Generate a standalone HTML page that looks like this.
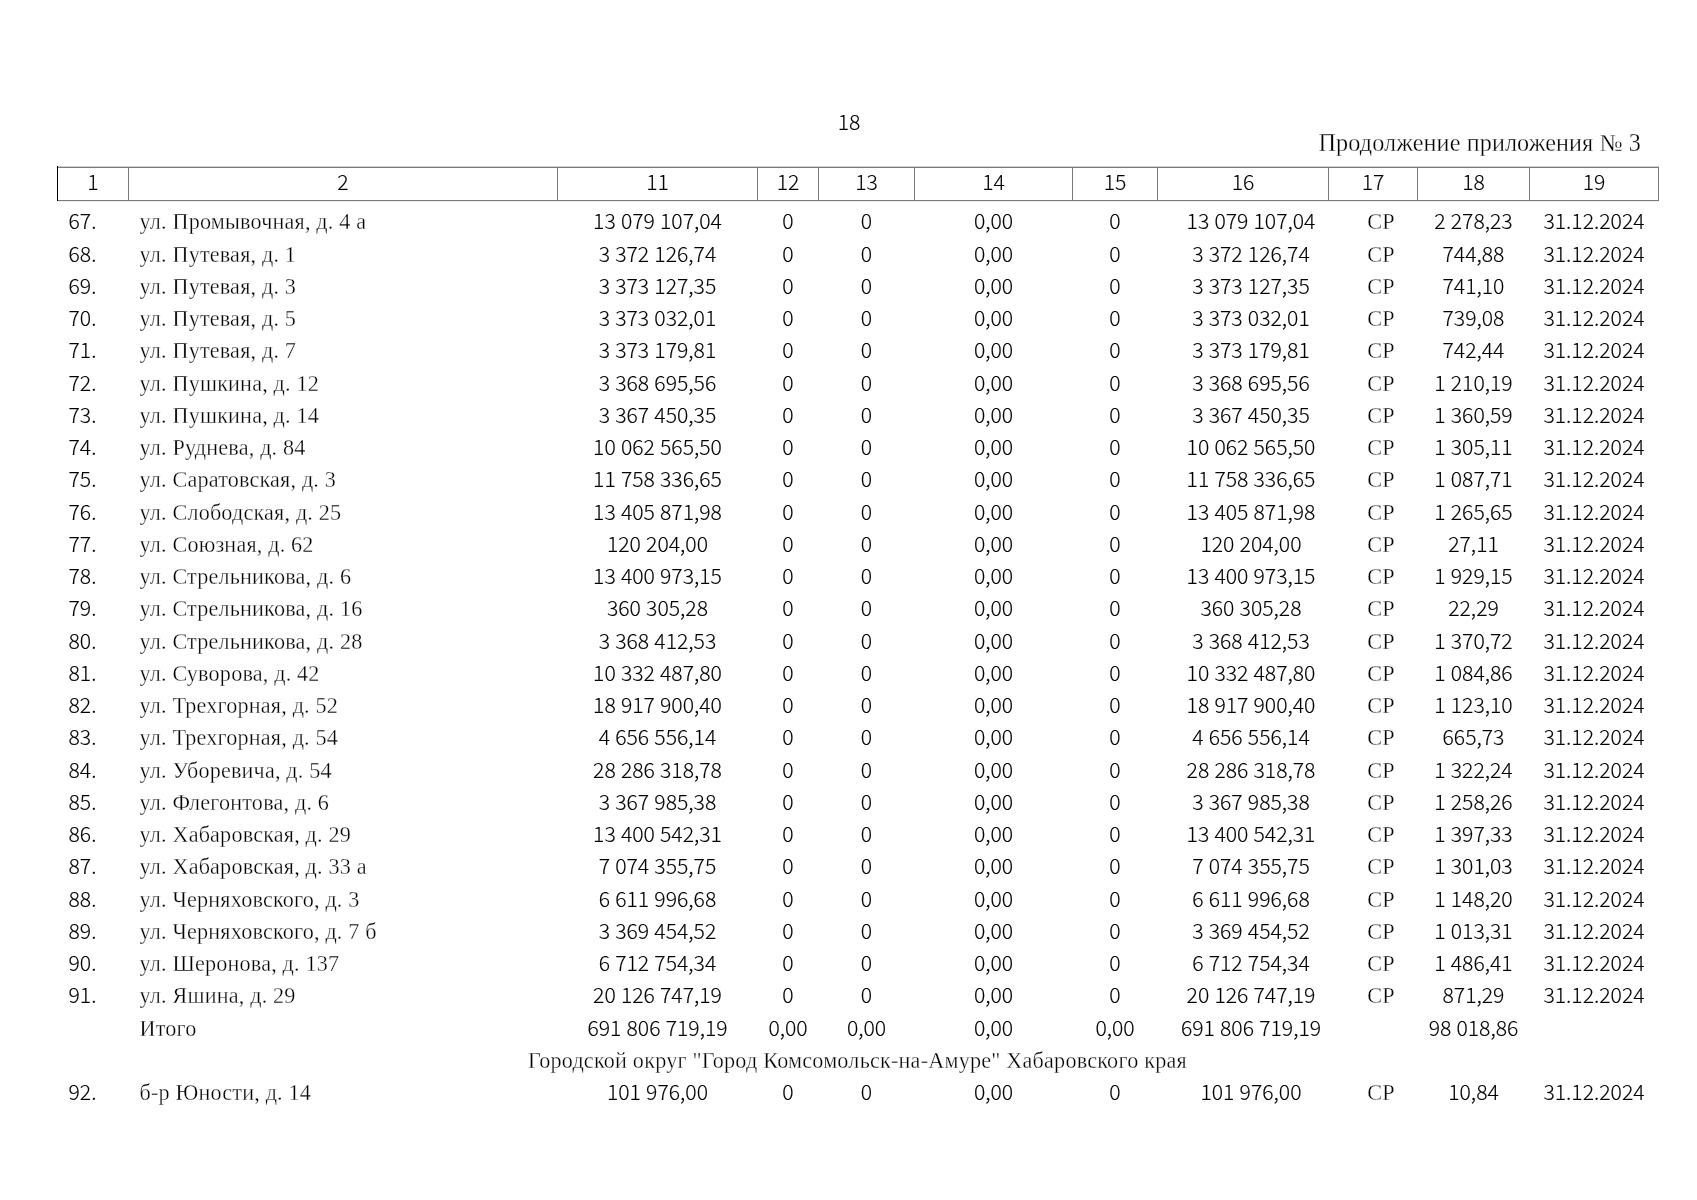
<!DOCTYPE html>
<html lang="ru"><head><meta charset="utf-8"><title>Продолжение приложения № 3</title>
<style>
html,body{margin:0;padding:0;background:#fff;}
body{width:1697px;height:1200px;position:relative;overflow:hidden;color:#000;}
.n{font-family:"Noto Sans CJK SC","Liberation Sans",sans-serif;font-weight:300;font-size:21.16px;word-spacing:0.5px;-webkit-text-stroke:0.15px #000;}
.s{font-family:"Liberation Serif","Noto Serif CJK SC",serif;font-size:22.17px;letter-spacing:0.18px;color:#000;-webkit-text-stroke:0.3px #fff;}
.r{position:absolute;left:0;width:1697px;height:32px;line-height:32px;white-space:nowrap;}
.r span{position:absolute;top:0;text-align:center;display:block;}
.r span.a{text-align:left;}
.r span.n{top:-2px;}
.pg{position:absolute;left:0;width:1697px;text-align:center;}
#w{position:absolute;left:0;top:0;width:1697px;height:1200px;will-change:transform;}
</style></head><body><div id="w">
<div class="pg n" style="top:109px;left:799px;width:100px;line-height:24px;font-size:21.16px">18</div>
<div class="s" style="position:absolute;top:129px;right:56px;line-height:28px;font-size:24.19px;letter-spacing:0.1px;white-space:nowrap">Продолжение приложения № 3</div>
<div style="position:absolute;left:57px;top:166px;width:1602px;height:1px;background:#d4d4d4"></div>
<div style="position:absolute;left:57px;top:167px;width:1602px;height:1px;background:#7a7a7a"></div>
<div style="position:absolute;left:57px;top:200px;width:1602px;height:1px;background:#7a7a7a"></div>
<div style="position:absolute;left:57px;top:201px;width:1602px;height:1px;background:#ececec"></div>
<div style="position:absolute;left:128px;top:167px;width:1px;height:34px;background:#7a7a7a"></div>
<div style="position:absolute;left:557px;top:167px;width:1px;height:34px;background:#7a7a7a"></div>
<div style="position:absolute;left:757px;top:167px;width:1px;height:34px;background:#7a7a7a"></div>
<div style="position:absolute;left:818px;top:167px;width:1px;height:34px;background:#7a7a7a"></div>
<div style="position:absolute;left:914px;top:167px;width:1px;height:34px;background:#7a7a7a"></div>
<div style="position:absolute;left:1072px;top:167px;width:1px;height:34px;background:#7a7a7a"></div>
<div style="position:absolute;left:1157px;top:167px;width:1px;height:34px;background:#7a7a7a"></div>
<div style="position:absolute;left:1328px;top:167px;width:1px;height:34px;background:#7a7a7a"></div>
<div style="position:absolute;left:1417px;top:167px;width:1px;height:34px;background:#7a7a7a"></div>
<div style="position:absolute;left:1529px;top:167px;width:1px;height:34px;background:#7a7a7a"></div>
<div style="position:absolute;left:1658px;top:167px;width:1px;height:34px;background:#7a7a7a"></div>
<div style="position:absolute;left:57px;top:166px;width:1px;height:35px;background:#000"></div>
<div class="n" style="position:absolute;text-align:center;left:57px;top:167px;width:72px;height:33px;line-height:27px;">1</div>
<div class="n" style="position:absolute;text-align:center;left:128px;top:167px;width:430px;height:33px;line-height:27px;">2</div>
<div class="n" style="position:absolute;text-align:center;left:557px;top:167px;width:201px;height:33px;line-height:27px;">11</div>
<div class="n" style="position:absolute;text-align:center;left:757px;top:167px;width:62px;height:33px;line-height:27px;">12</div>
<div class="n" style="position:absolute;text-align:center;left:818px;top:167px;width:97px;height:33px;line-height:27px;">13</div>
<div class="n" style="position:absolute;text-align:center;left:914px;top:167px;width:159px;height:33px;line-height:27px;">14</div>
<div class="n" style="position:absolute;text-align:center;left:1072px;top:167px;width:86px;height:33px;line-height:27px;">15</div>
<div class="n" style="position:absolute;text-align:center;left:1157px;top:167px;width:172px;height:33px;line-height:27px;">16</div>
<div class="n" style="position:absolute;text-align:center;left:1328px;top:167px;width:90px;height:33px;line-height:27px;">17</div>
<div class="n" style="position:absolute;text-align:center;left:1417px;top:167px;width:113px;height:33px;line-height:27px;">18</div>
<div class="n" style="position:absolute;text-align:center;left:1529px;top:167px;width:130px;height:33px;line-height:27px;">19</div>
<div class="r" style="top:206.25px"><span class="n a" style="left:68.5px">67.</span><span class="s a" style="left:139.5px;top:0px">ул. Промывочная, д. 4 а</span><span class="n" style="left:557px;width:201px;">13 079 107,04</span><span class="n" style="left:757px;width:62px;">0</span><span class="n" style="left:818px;width:97px;">0</span><span class="n" style="left:914px;width:159px;">0,00</span><span class="n" style="left:1072px;width:86px;">0</span><span class="n" style="left:1157px;width:172px;margin-left:8px">13 079 107,04</span><span class="s" style="left:1328px;width:90px;top:0px;margin-left:8px">СР</span><span class="n" style="left:1417px;width:113px;">2 278,23</span><span class="n" style="left:1529px;width:130px;margin-left:0px">31.12.2024</span></div>
<div class="r" style="top:238.51px"><span class="n a" style="left:68.5px">68.</span><span class="s a" style="left:139.5px;top:0px">ул. Путевая, д. 1</span><span class="n" style="left:557px;width:201px;">3 372 126,74</span><span class="n" style="left:757px;width:62px;">0</span><span class="n" style="left:818px;width:97px;">0</span><span class="n" style="left:914px;width:159px;">0,00</span><span class="n" style="left:1072px;width:86px;">0</span><span class="n" style="left:1157px;width:172px;margin-left:8px">3 372 126,74</span><span class="s" style="left:1328px;width:90px;top:0px;margin-left:8px">СР</span><span class="n" style="left:1417px;width:113px;">744,88</span><span class="n" style="left:1529px;width:130px;margin-left:0px">31.12.2024</span></div>
<div class="r" style="top:270.77px"><span class="n a" style="left:68.5px">69.</span><span class="s a" style="left:139.5px;top:0px">ул. Путевая, д. 3</span><span class="n" style="left:557px;width:201px;">3 373 127,35</span><span class="n" style="left:757px;width:62px;">0</span><span class="n" style="left:818px;width:97px;">0</span><span class="n" style="left:914px;width:159px;">0,00</span><span class="n" style="left:1072px;width:86px;">0</span><span class="n" style="left:1157px;width:172px;margin-left:8px">3 373 127,35</span><span class="s" style="left:1328px;width:90px;top:0px;margin-left:8px">СР</span><span class="n" style="left:1417px;width:113px;">741,10</span><span class="n" style="left:1529px;width:130px;margin-left:0px">31.12.2024</span></div>
<div class="r" style="top:303.03px"><span class="n a" style="left:68.5px">70.</span><span class="s a" style="left:139.5px;top:0px">ул. Путевая, д. 5</span><span class="n" style="left:557px;width:201px;">3 373 032,01</span><span class="n" style="left:757px;width:62px;">0</span><span class="n" style="left:818px;width:97px;">0</span><span class="n" style="left:914px;width:159px;">0,00</span><span class="n" style="left:1072px;width:86px;">0</span><span class="n" style="left:1157px;width:172px;margin-left:8px">3 373 032,01</span><span class="s" style="left:1328px;width:90px;top:0px;margin-left:8px">СР</span><span class="n" style="left:1417px;width:113px;">739,08</span><span class="n" style="left:1529px;width:130px;margin-left:0px">31.12.2024</span></div>
<div class="r" style="top:335.29px"><span class="n a" style="left:68.5px">71.</span><span class="s a" style="left:139.5px;top:0px">ул. Путевая, д. 7</span><span class="n" style="left:557px;width:201px;">3 373 179,81</span><span class="n" style="left:757px;width:62px;">0</span><span class="n" style="left:818px;width:97px;">0</span><span class="n" style="left:914px;width:159px;">0,00</span><span class="n" style="left:1072px;width:86px;">0</span><span class="n" style="left:1157px;width:172px;margin-left:8px">3 373 179,81</span><span class="s" style="left:1328px;width:90px;top:0px;margin-left:8px">СР</span><span class="n" style="left:1417px;width:113px;">742,44</span><span class="n" style="left:1529px;width:130px;margin-left:0px">31.12.2024</span></div>
<div class="r" style="top:367.55px"><span class="n a" style="left:68.5px">72.</span><span class="s a" style="left:139.5px;top:0px">ул. Пушкина, д. 12</span><span class="n" style="left:557px;width:201px;">3 368 695,56</span><span class="n" style="left:757px;width:62px;">0</span><span class="n" style="left:818px;width:97px;">0</span><span class="n" style="left:914px;width:159px;">0,00</span><span class="n" style="left:1072px;width:86px;">0</span><span class="n" style="left:1157px;width:172px;margin-left:8px">3 368 695,56</span><span class="s" style="left:1328px;width:90px;top:0px;margin-left:8px">СР</span><span class="n" style="left:1417px;width:113px;">1 210,19</span><span class="n" style="left:1529px;width:130px;margin-left:0px">31.12.2024</span></div>
<div class="r" style="top:399.81px"><span class="n a" style="left:68.5px">73.</span><span class="s a" style="left:139.5px;top:0px">ул. Пушкина, д. 14</span><span class="n" style="left:557px;width:201px;">3 367 450,35</span><span class="n" style="left:757px;width:62px;">0</span><span class="n" style="left:818px;width:97px;">0</span><span class="n" style="left:914px;width:159px;">0,00</span><span class="n" style="left:1072px;width:86px;">0</span><span class="n" style="left:1157px;width:172px;margin-left:8px">3 367 450,35</span><span class="s" style="left:1328px;width:90px;top:0px;margin-left:8px">СР</span><span class="n" style="left:1417px;width:113px;">1 360,59</span><span class="n" style="left:1529px;width:130px;margin-left:0px">31.12.2024</span></div>
<div class="r" style="top:432.07px"><span class="n a" style="left:68.5px">74.</span><span class="s a" style="left:139.5px;top:0px">ул. Руднева, д. 84</span><span class="n" style="left:557px;width:201px;">10 062 565,50</span><span class="n" style="left:757px;width:62px;">0</span><span class="n" style="left:818px;width:97px;">0</span><span class="n" style="left:914px;width:159px;">0,00</span><span class="n" style="left:1072px;width:86px;">0</span><span class="n" style="left:1157px;width:172px;margin-left:8px">10 062 565,50</span><span class="s" style="left:1328px;width:90px;top:0px;margin-left:8px">СР</span><span class="n" style="left:1417px;width:113px;">1 305,11</span><span class="n" style="left:1529px;width:130px;margin-left:0px">31.12.2024</span></div>
<div class="r" style="top:464.33px"><span class="n a" style="left:68.5px">75.</span><span class="s a" style="left:139.5px;top:0px">ул. Саратовская, д. 3</span><span class="n" style="left:557px;width:201px;">11 758 336,65</span><span class="n" style="left:757px;width:62px;">0</span><span class="n" style="left:818px;width:97px;">0</span><span class="n" style="left:914px;width:159px;">0,00</span><span class="n" style="left:1072px;width:86px;">0</span><span class="n" style="left:1157px;width:172px;margin-left:8px">11 758 336,65</span><span class="s" style="left:1328px;width:90px;top:0px;margin-left:8px">СР</span><span class="n" style="left:1417px;width:113px;">1 087,71</span><span class="n" style="left:1529px;width:130px;margin-left:0px">31.12.2024</span></div>
<div class="r" style="top:496.59px"><span class="n a" style="left:68.5px">76.</span><span class="s a" style="left:139.5px;top:0px">ул. Слободская, д. 25</span><span class="n" style="left:557px;width:201px;">13 405 871,98</span><span class="n" style="left:757px;width:62px;">0</span><span class="n" style="left:818px;width:97px;">0</span><span class="n" style="left:914px;width:159px;">0,00</span><span class="n" style="left:1072px;width:86px;">0</span><span class="n" style="left:1157px;width:172px;margin-left:8px">13 405 871,98</span><span class="s" style="left:1328px;width:90px;top:0px;margin-left:8px">СР</span><span class="n" style="left:1417px;width:113px;">1 265,65</span><span class="n" style="left:1529px;width:130px;margin-left:0px">31.12.2024</span></div>
<div class="r" style="top:528.85px"><span class="n a" style="left:68.5px">77.</span><span class="s a" style="left:139.5px;top:0px">ул. Союзная, д. 62</span><span class="n" style="left:557px;width:201px;">120 204,00</span><span class="n" style="left:757px;width:62px;">0</span><span class="n" style="left:818px;width:97px;">0</span><span class="n" style="left:914px;width:159px;">0,00</span><span class="n" style="left:1072px;width:86px;">0</span><span class="n" style="left:1157px;width:172px;margin-left:8px">120 204,00</span><span class="s" style="left:1328px;width:90px;top:0px;margin-left:8px">СР</span><span class="n" style="left:1417px;width:113px;">27,11</span><span class="n" style="left:1529px;width:130px;margin-left:0px">31.12.2024</span></div>
<div class="r" style="top:561.11px"><span class="n a" style="left:68.5px">78.</span><span class="s a" style="left:139.5px;top:0px">ул. Стрельникова, д. 6</span><span class="n" style="left:557px;width:201px;">13 400 973,15</span><span class="n" style="left:757px;width:62px;">0</span><span class="n" style="left:818px;width:97px;">0</span><span class="n" style="left:914px;width:159px;">0,00</span><span class="n" style="left:1072px;width:86px;">0</span><span class="n" style="left:1157px;width:172px;margin-left:8px">13 400 973,15</span><span class="s" style="left:1328px;width:90px;top:0px;margin-left:8px">СР</span><span class="n" style="left:1417px;width:113px;">1 929,15</span><span class="n" style="left:1529px;width:130px;margin-left:0px">31.12.2024</span></div>
<div class="r" style="top:593.37px"><span class="n a" style="left:68.5px">79.</span><span class="s a" style="left:139.5px;top:0px">ул. Стрельникова, д. 16</span><span class="n" style="left:557px;width:201px;">360 305,28</span><span class="n" style="left:757px;width:62px;">0</span><span class="n" style="left:818px;width:97px;">0</span><span class="n" style="left:914px;width:159px;">0,00</span><span class="n" style="left:1072px;width:86px;">0</span><span class="n" style="left:1157px;width:172px;margin-left:8px">360 305,28</span><span class="s" style="left:1328px;width:90px;top:0px;margin-left:8px">СР</span><span class="n" style="left:1417px;width:113px;">22,29</span><span class="n" style="left:1529px;width:130px;margin-left:0px">31.12.2024</span></div>
<div class="r" style="top:625.63px"><span class="n a" style="left:68.5px">80.</span><span class="s a" style="left:139.5px;top:0px">ул. Стрельникова, д. 28</span><span class="n" style="left:557px;width:201px;">3 368 412,53</span><span class="n" style="left:757px;width:62px;">0</span><span class="n" style="left:818px;width:97px;">0</span><span class="n" style="left:914px;width:159px;">0,00</span><span class="n" style="left:1072px;width:86px;">0</span><span class="n" style="left:1157px;width:172px;margin-left:8px">3 368 412,53</span><span class="s" style="left:1328px;width:90px;top:0px;margin-left:8px">СР</span><span class="n" style="left:1417px;width:113px;">1 370,72</span><span class="n" style="left:1529px;width:130px;margin-left:0px">31.12.2024</span></div>
<div class="r" style="top:657.89px"><span class="n a" style="left:68.5px">81.</span><span class="s a" style="left:139.5px;top:0px">ул. Суворова, д. 42</span><span class="n" style="left:557px;width:201px;">10 332 487,80</span><span class="n" style="left:757px;width:62px;">0</span><span class="n" style="left:818px;width:97px;">0</span><span class="n" style="left:914px;width:159px;">0,00</span><span class="n" style="left:1072px;width:86px;">0</span><span class="n" style="left:1157px;width:172px;margin-left:8px">10 332 487,80</span><span class="s" style="left:1328px;width:90px;top:0px;margin-left:8px">СР</span><span class="n" style="left:1417px;width:113px;">1 084,86</span><span class="n" style="left:1529px;width:130px;margin-left:0px">31.12.2024</span></div>
<div class="r" style="top:690.15px"><span class="n a" style="left:68.5px">82.</span><span class="s a" style="left:139.5px;top:0px">ул. Трехгорная, д. 52</span><span class="n" style="left:557px;width:201px;">18 917 900,40</span><span class="n" style="left:757px;width:62px;">0</span><span class="n" style="left:818px;width:97px;">0</span><span class="n" style="left:914px;width:159px;">0,00</span><span class="n" style="left:1072px;width:86px;">0</span><span class="n" style="left:1157px;width:172px;margin-left:8px">18 917 900,40</span><span class="s" style="left:1328px;width:90px;top:0px;margin-left:8px">СР</span><span class="n" style="left:1417px;width:113px;">1 123,10</span><span class="n" style="left:1529px;width:130px;margin-left:0px">31.12.2024</span></div>
<div class="r" style="top:722.41px"><span class="n a" style="left:68.5px">83.</span><span class="s a" style="left:139.5px;top:0px">ул. Трехгорная, д. 54</span><span class="n" style="left:557px;width:201px;">4 656 556,14</span><span class="n" style="left:757px;width:62px;">0</span><span class="n" style="left:818px;width:97px;">0</span><span class="n" style="left:914px;width:159px;">0,00</span><span class="n" style="left:1072px;width:86px;">0</span><span class="n" style="left:1157px;width:172px;margin-left:8px">4 656 556,14</span><span class="s" style="left:1328px;width:90px;top:0px;margin-left:8px">СР</span><span class="n" style="left:1417px;width:113px;">665,73</span><span class="n" style="left:1529px;width:130px;margin-left:0px">31.12.2024</span></div>
<div class="r" style="top:754.67px"><span class="n a" style="left:68.5px">84.</span><span class="s a" style="left:139.5px;top:0px">ул. Уборевича, д. 54</span><span class="n" style="left:557px;width:201px;">28 286 318,78</span><span class="n" style="left:757px;width:62px;">0</span><span class="n" style="left:818px;width:97px;">0</span><span class="n" style="left:914px;width:159px;">0,00</span><span class="n" style="left:1072px;width:86px;">0</span><span class="n" style="left:1157px;width:172px;margin-left:8px">28 286 318,78</span><span class="s" style="left:1328px;width:90px;top:0px;margin-left:8px">СР</span><span class="n" style="left:1417px;width:113px;">1 322,24</span><span class="n" style="left:1529px;width:130px;margin-left:0px">31.12.2024</span></div>
<div class="r" style="top:786.93px"><span class="n a" style="left:68.5px">85.</span><span class="s a" style="left:139.5px;top:0px">ул. Флегонтова, д. 6</span><span class="n" style="left:557px;width:201px;">3 367 985,38</span><span class="n" style="left:757px;width:62px;">0</span><span class="n" style="left:818px;width:97px;">0</span><span class="n" style="left:914px;width:159px;">0,00</span><span class="n" style="left:1072px;width:86px;">0</span><span class="n" style="left:1157px;width:172px;margin-left:8px">3 367 985,38</span><span class="s" style="left:1328px;width:90px;top:0px;margin-left:8px">СР</span><span class="n" style="left:1417px;width:113px;">1 258,26</span><span class="n" style="left:1529px;width:130px;margin-left:0px">31.12.2024</span></div>
<div class="r" style="top:819.19px"><span class="n a" style="left:68.5px">86.</span><span class="s a" style="left:139.5px;top:0px">ул. Хабаровская, д. 29</span><span class="n" style="left:557px;width:201px;">13 400 542,31</span><span class="n" style="left:757px;width:62px;">0</span><span class="n" style="left:818px;width:97px;">0</span><span class="n" style="left:914px;width:159px;">0,00</span><span class="n" style="left:1072px;width:86px;">0</span><span class="n" style="left:1157px;width:172px;margin-left:8px">13 400 542,31</span><span class="s" style="left:1328px;width:90px;top:0px;margin-left:8px">СР</span><span class="n" style="left:1417px;width:113px;">1 397,33</span><span class="n" style="left:1529px;width:130px;margin-left:0px">31.12.2024</span></div>
<div class="r" style="top:851.45px"><span class="n a" style="left:68.5px">87.</span><span class="s a" style="left:139.5px;top:0px">ул. Хабаровская, д. 33 а</span><span class="n" style="left:557px;width:201px;">7 074 355,75</span><span class="n" style="left:757px;width:62px;">0</span><span class="n" style="left:818px;width:97px;">0</span><span class="n" style="left:914px;width:159px;">0,00</span><span class="n" style="left:1072px;width:86px;">0</span><span class="n" style="left:1157px;width:172px;margin-left:8px">7 074 355,75</span><span class="s" style="left:1328px;width:90px;top:0px;margin-left:8px">СР</span><span class="n" style="left:1417px;width:113px;">1 301,03</span><span class="n" style="left:1529px;width:130px;margin-left:0px">31.12.2024</span></div>
<div class="r" style="top:883.71px"><span class="n a" style="left:68.5px">88.</span><span class="s a" style="left:139.5px;top:0px">ул. Черняховского, д. 3</span><span class="n" style="left:557px;width:201px;">6 611 996,68</span><span class="n" style="left:757px;width:62px;">0</span><span class="n" style="left:818px;width:97px;">0</span><span class="n" style="left:914px;width:159px;">0,00</span><span class="n" style="left:1072px;width:86px;">0</span><span class="n" style="left:1157px;width:172px;margin-left:8px">6 611 996,68</span><span class="s" style="left:1328px;width:90px;top:0px;margin-left:8px">СР</span><span class="n" style="left:1417px;width:113px;">1 148,20</span><span class="n" style="left:1529px;width:130px;margin-left:0px">31.12.2024</span></div>
<div class="r" style="top:915.97px"><span class="n a" style="left:68.5px">89.</span><span class="s a" style="left:139.5px;top:0px">ул. Черняховского, д. 7 б</span><span class="n" style="left:557px;width:201px;">3 369 454,52</span><span class="n" style="left:757px;width:62px;">0</span><span class="n" style="left:818px;width:97px;">0</span><span class="n" style="left:914px;width:159px;">0,00</span><span class="n" style="left:1072px;width:86px;">0</span><span class="n" style="left:1157px;width:172px;margin-left:8px">3 369 454,52</span><span class="s" style="left:1328px;width:90px;top:0px;margin-left:8px">СР</span><span class="n" style="left:1417px;width:113px;">1 013,31</span><span class="n" style="left:1529px;width:130px;margin-left:0px">31.12.2024</span></div>
<div class="r" style="top:948.23px"><span class="n a" style="left:68.5px">90.</span><span class="s a" style="left:139.5px;top:0px">ул. Шеронова, д. 137</span><span class="n" style="left:557px;width:201px;">6 712 754,34</span><span class="n" style="left:757px;width:62px;">0</span><span class="n" style="left:818px;width:97px;">0</span><span class="n" style="left:914px;width:159px;">0,00</span><span class="n" style="left:1072px;width:86px;">0</span><span class="n" style="left:1157px;width:172px;margin-left:8px">6 712 754,34</span><span class="s" style="left:1328px;width:90px;top:0px;margin-left:8px">СР</span><span class="n" style="left:1417px;width:113px;">1 486,41</span><span class="n" style="left:1529px;width:130px;margin-left:0px">31.12.2024</span></div>
<div class="r" style="top:980.49px"><span class="n a" style="left:68.5px">91.</span><span class="s a" style="left:139.5px;top:0px">ул. Яшина, д. 29</span><span class="n" style="left:557px;width:201px;">20 126 747,19</span><span class="n" style="left:757px;width:62px;">0</span><span class="n" style="left:818px;width:97px;">0</span><span class="n" style="left:914px;width:159px;">0,00</span><span class="n" style="left:1072px;width:86px;">0</span><span class="n" style="left:1157px;width:172px;margin-left:8px">20 126 747,19</span><span class="s" style="left:1328px;width:90px;top:0px;margin-left:8px">СР</span><span class="n" style="left:1417px;width:113px;">871,29</span><span class="n" style="left:1529px;width:130px;margin-left:0px">31.12.2024</span></div>
<div class="r" style="top:1012.75px"><span class="s a" style="left:139.5px;top:0px">Итого</span><span class="n" style="left:557px;width:201px;">691 806 719,19</span><span class="n" style="left:757px;width:62px;">0,00</span><span class="n" style="left:818px;width:97px;">0,00</span><span class="n" style="left:914px;width:159px;">0,00</span><span class="n" style="left:1072px;width:86px;">0,00</span><span class="n" style="left:1157px;width:172px;margin-left:8px">691 806 719,19</span><span class="n" style="left:1417px;width:113px;">98 018,86</span></div>
<div class="r" style="top:1045.01px"><span class="s" style="letter-spacing:0.21px;left:57px;width:1601px;top:0px">Городской округ "Город Комсомольск-на-Амуре" Хабаровского края</span></div>
<div class="r" style="top:1077.27px"><span class="n a" style="left:68.5px">92.</span><span class="s a" style="left:139.5px;top:0px">б-р Юности, д. 14</span><span class="n" style="left:557px;width:201px;">101 976,00</span><span class="n" style="left:757px;width:62px;">0</span><span class="n" style="left:818px;width:97px;">0</span><span class="n" style="left:914px;width:159px;">0,00</span><span class="n" style="left:1072px;width:86px;">0</span><span class="n" style="left:1157px;width:172px;margin-left:8px">101 976,00</span><span class="s" style="left:1328px;width:90px;top:0px;margin-left:8px">СР</span><span class="n" style="left:1417px;width:113px;">10,84</span><span class="n" style="left:1529px;width:130px;margin-left:0px">31.12.2024</span></div>
</div></body></html>
